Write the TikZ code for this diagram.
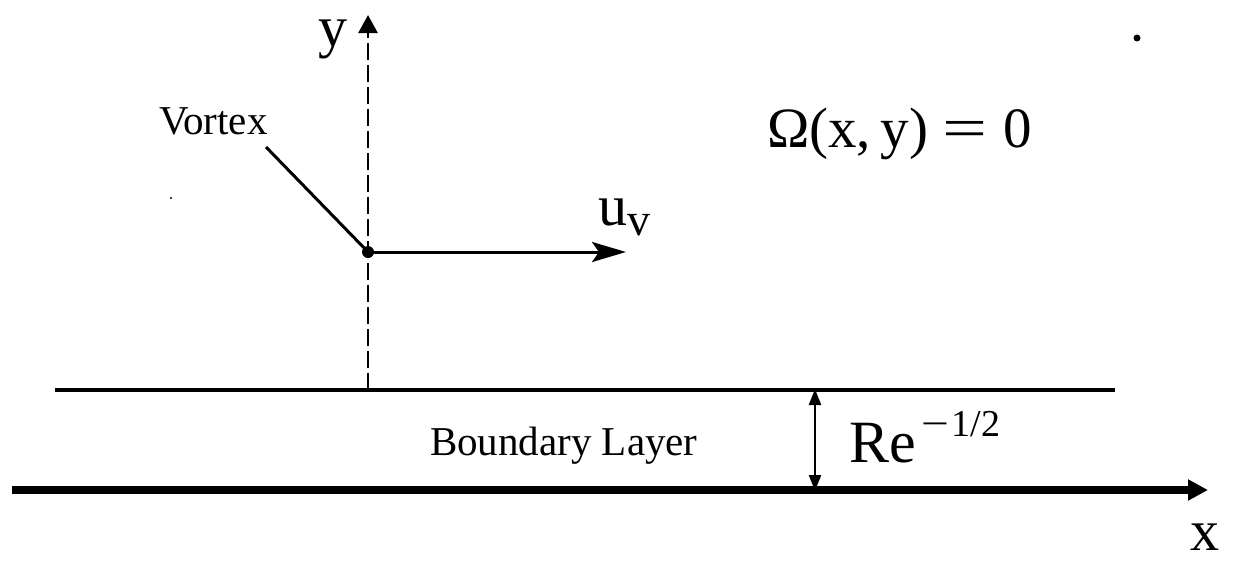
\documentclass[tikz,border=0pt]{standalone}
\usepackage{fontspec}
\setmainfont{Liberation Serif}
\usetikzlibrary{arrows.meta}
\tikzset{
  lbl/.style={inner sep=0pt, outer sep=0pt},
  axisline/.style={line width=2.5pt, dash pattern=on 17pt off 5pt},
  thinline/.style={line width=3pt},
}
\newcommand{\fs}[1]{\fontsize{#1}{#1}\selectfont}
\begin{document}
\begin{tikzpicture}[x=1pt,y=-1pt]
\useasboundingbox (0,0) rectangle (1233,563);
% coordinates
\coordinate (yb) at (368,390);
\coordinate (yt) at (368,15);
\coordinate (blL) at (55,390);
\coordinate (blR) at (1115,390);
\coordinate (wL) at (12,490);
\coordinate (wR) at (1208,490);
\coordinate (dT) at (815,389);
\coordinate (dB) at (815,491);
\coordinate (uvEnd) at (626,252);
% vortex dot
\node[circle, fill=black, inner sep=0pt, minimum size=12pt] (vx) at (368,252) {};
% y axis
\draw[axisline, -{Triangle[length=18pt,width=19pt]}] (yb) -- (yt);
% velocity arrow
\draw[thinline, -{Stealth[length=34pt,width=20pt,inset=7pt]}] (vx.center) -- (uvEnd);
% leader line
\node[lbl, anchor=base west] (vlab) at (159,134) {\fs{41pt}Vortex};
\coordinate (ls) at (266,147);
\draw[thinline] (ls) -- (vx.center);
% boundary layer top line
\draw[line width=3.5pt] (blL) -- (blR);
% wall / x axis
\draw[line width=8pt, -{Triangle[length=20pt,width=20pt]}] (wL) -- (wR);
% thickness double arrow
\draw[line width=2.2pt, {Triangle[length=16pt,width=12pt]}-{Triangle[length=16pt,width=12pt]}] (dT) -- (dB);
% labels
\node[lbl, anchor=base west] (ylab) at (318,46) {\fs{58pt}y};
\node[lbl, anchor=base west] (xlab) at (1190,550) {\fs{58pt}x};
\node[lbl, anchor=base west] (ulab) at (598,225) {\fs{58pt}u\raisebox{-10pt}{\fs{46pt}v}};
\node[lbl, anchor=base west] (omlab) at (767,147) {\fs{57pt}Ω(x,\,y)\hspace{14pt}\scalebox{1.4}[1]{=}\hspace{16pt}0};
\node[lbl, anchor=base west] (relab) at (849,462) {\fs{60pt}Re\raisebox{26pt}{\fs{38pt}\hspace{6pt}\scalebox{1.3}[1]{−}\hspace{2pt}1/2}};
\node[lbl, anchor=base west] (bllab) at (430,455) {\fs{41pt}Boundary Layer};
% stray specks
\fill (1137,38) circle (3.5pt);
\fill (171,198) circle (1.2pt);
\end{tikzpicture}
\end{document}
